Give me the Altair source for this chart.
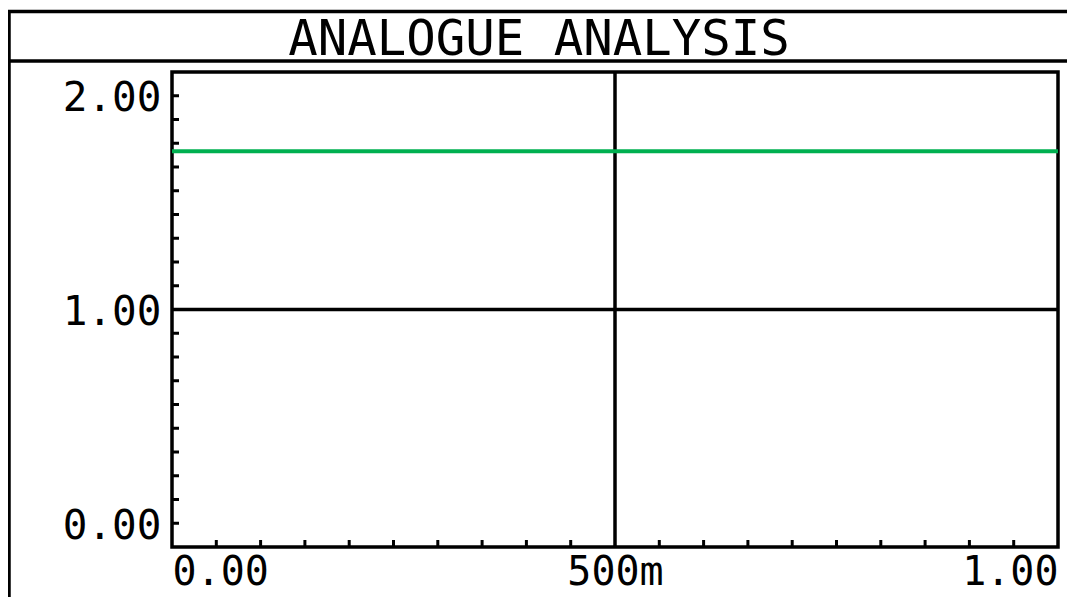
import altair as alt
import pandas as pd

# ---- data -------------------------------------------------------------
TITLE = "ANALOGUE ANALYSIS"
time_s = [0.0, 1.0]
trace_v = [1.74, 1.74]

x_label_values = [0.0, 0.5, 1.0]
y_label_values = [0.0, 1.0, 2.0]
x_minor_ticks = [0.05, 0.10, 0.15, 0.20, 0.25, 0.30, 0.35, 0.40, 0.45,
                 0.55, 0.60, 0.65, 0.70, 0.75, 0.80, 0.85, 0.90, 0.95]
y_minor_ticks = [0.0, 0.1111, 0.2222, 0.3333, 0.4444, 0.5556, 0.6667, 0.7778,
                 0.8889, 1.1111, 1.2222, 1.3333, 1.4444, 1.5556, 1.6667,
                 1.7778, 1.8889, 2.0]
x_grid = [0.5]
y_grid = [1.0]
x_domain = [0.0, 1.0]
y_domain = [-0.1111, 2.1111]

# ---- layout -----------------------------------------------------------
W, H = 886, 475
PAD_L, PAD_T, PAD_R, PAD_B = 164, 64, 9, 50
FONT = "DejaVu Sans Mono"
INK = "#000000"
GREEN = "#00B050"

xs = alt.Scale(domain=x_domain, nice=False, zero=False)
ys = alt.Scale(domain=y_domain, nice=False, zero=False)

x_axis = alt.Axis(values=x_label_values, title=None, grid=False, domain=False,
                  ticks=False, tickSize=0, labelFlush=True,
                  labelExpr="datum.value == 0.5 ? '500m' : format(datum.value, '.2f')",
                  labelFont=FONT, labelFontSize=40, labelColor=INK,
                  labelPadding=5)
y_axis = alt.Axis(values=y_label_values, title=None, grid=False, domain=False,
                  ticks=False, tickSize=0, format=".2f",
                  labelFont=FONT, labelFontSize=41, labelColor=INK,
                  labelPadding=11, labelOffset=3, labelBaseline="middle")

trace_df = pd.DataFrame({"t": time_s, "v": trace_v})
one = alt.Data(values=[{"k": 0}])

trace = alt.Chart(trace_df).mark_line(color=GREEN, strokeWidth=4).encode(
    x=alt.X("t:Q", scale=xs, axis=x_axis),
    y=alt.Y("v:Q", scale=ys, axis=y_axis),
)

vgrid = alt.Chart(pd.DataFrame({"x": x_grid})).mark_rule(color=INK, strokeWidth=3.5).encode(
    x=alt.X("x:Q", scale=xs)
)
hgrid = alt.Chart(pd.DataFrame({"y": y_grid})).mark_rule(color=INK, strokeWidth=3.5).encode(
    y=alt.Y("y:Q", scale=ys)
)

xticks = alt.Chart(pd.DataFrame({"x": x_minor_ticks})).mark_rule(color=INK, strokeWidth=3).encode(
    x=alt.X("x:Q", scale=xs), y=alt.value(H), y2=alt.value(H - 7)
)
yticks = alt.Chart(pd.DataFrame({"y": y_minor_ticks})).mark_rule(color=INK, strokeWidth=3).encode(
    y=alt.Y("y:Q", scale=ys), x=alt.value(0), x2=alt.value(7)
)

frame_left = alt.Chart(one).mark_rule(color=INK, strokeWidth=3.5).encode(
    x=alt.value(-163), y=alt.value(-60.5), y2=alt.value(H + PAD_B)
)
frame_top = alt.Chart(one).mark_rule(color=INK, strokeWidth=3.5).encode(
    y=alt.value(-60.5), x=alt.value(-PAD_L), x2=alt.value(W + PAD_R)
)
frame_mid = alt.Chart(one).mark_rule(color=INK, strokeWidth=3.5).encode(
    y=alt.value(-11), x=alt.value(-PAD_L), x2=alt.value(W + PAD_R)
)
title = alt.Chart(one).mark_text(font=FONT, fontSize=49, color=INK,
                                 align="center", baseline="middle").encode(
    x=alt.value(367), y=alt.value(-32.5), text=alt.value(TITLE)
)

chart = alt.layer(
    vgrid, hgrid, xticks, yticks, frame_left, frame_top, frame_mid, title, trace
).properties(
    width=W, height=H,
    autosize=alt.AutoSizeParams(type="none"),
    padding={"left": PAD_L, "top": PAD_T, "right": PAD_R, "bottom": PAD_B},
    background="white",
).configure_view(stroke=INK, strokeWidth=3.5)

chart.save("out.html", embed_options={"renderer": "svg", "actions": False})
